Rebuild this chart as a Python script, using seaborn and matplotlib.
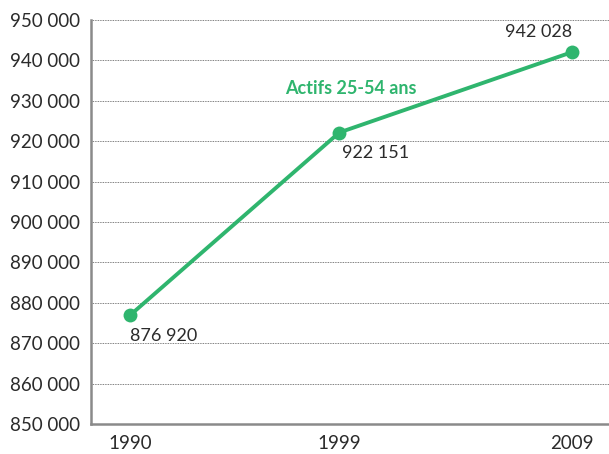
import matplotlib
matplotlib.use("Agg")
import matplotlib.pyplot as plt
import matplotlib.ticker as mticker
import seaborn as sns
import pandas as pd

years = [1990, 1999, 2009]
actifs = [876920, 922151, 942028]
series_label = "Actifs 25-54 ans"
y_ticks = list(range(850000, 950001, 10000))

GREEN = "#2fb56e"
TEXT = "#2b2b2b"
AXIS = "#8a8a8a"

sns.set_style("white")
plt.rcParams["font.family"] = ["Lato", "DejaVu Sans"]

df = pd.DataFrame({"annee": years, "actifs": actifs})

fig = plt.figure(figsize=(6.09, 4.54), dpi=100)
ax = fig.add_axes([91 / 609, 30 / 454, 1 - 91 / 609, 404 / 454])

sns.lineplot(data=df, x="annee", y="actifs", ax=ax, color=GREEN, linewidth=2.8,
             marker="o", markersize=10, markeredgewidth=0, zorder=3)

ax.set_xlim(1988.32, 2010.6)
ax.set_ylim(850000, 950000)
ax.set_xticks(years)
ax.set_yticks(y_ticks)
ax.yaxis.set_major_formatter(mticker.FuncFormatter(lambda v, p: f"{int(v):,}".replace(",", " ")))
ax.set_xlabel("")
ax.set_ylabel("")

ax.grid(axis="y", linestyle=(0, (1, 1)), color="#555555", linewidth=0.6)
ax.set_axisbelow(True)
for side in ("top", "right"):
    ax.spines[side].set_visible(False)
for side in ("left", "bottom"):
    ax.spines[side].set_color(AXIS)
    ax.spines[side].set_linewidth(1.8)

ax.tick_params(axis="y", length=5, width=1, color=AXIS, labelsize=13.5, labelcolor=TEXT, pad=3)
ax.tick_params(axis="x", length=5, width=1, color=AXIS, labelsize=13.5, labelcolor=TEXT, pad=3, direction="out")

# value labels next to each point
offsets = [(0, -9, "left", "top"), (2, -9, "left", "top"), (0, 9, "right", "bottom")]
for (yr, v), (dx, dy, ha, va) in zip(zip(years, actifs), offsets):
    ax.annotate(f"{v:,}".replace(",", " "), (yr, v), xytext=(dx, dy), textcoords="offset points",
                ha=ha, va=va, fontsize=13, color=TEXT)

ax.text(1999.5, 933000, series_label, color=GREEN, fontsize=13, fontweight="bold",
        ha="center", va="center")

fig.savefig("out.png", dpi=100)
